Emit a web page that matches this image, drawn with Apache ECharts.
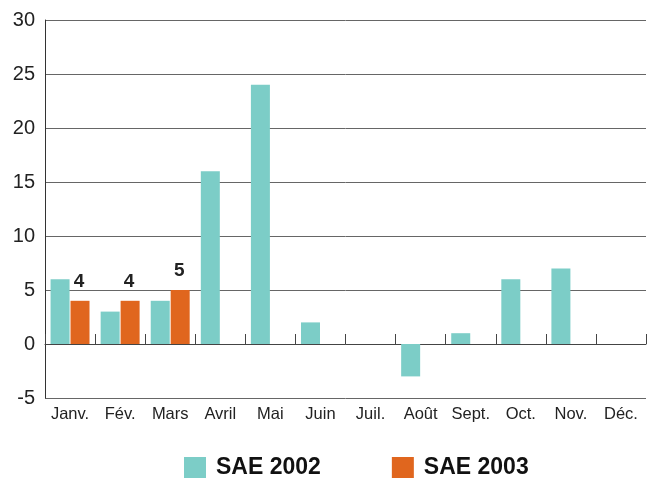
<!DOCTYPE html>
<html>
<head>
<meta charset="utf-8">
<script src="https://cdn.jsdelivr.net/npm/echarts@6/dist/echarts.min.js"></script>
<style>
html,body{margin:0;padding:0;background:#fff;}
#main{width:647px;height:478px;}
</style>
</head>
<body>
<div id="main"></div>
<script>
var months = ['Janv.', 'Fév.', 'Mars', 'Avril', 'Mai', 'Juin', 'Juil.', 'Août', 'Sept.', 'Oct.', 'Nov.', 'Déc.'];
var sae2002 = [6, 3, 4, 16, 24, 2, 0, -3, 1, 6, 7, 0];
var sae2003 = [4, 4, 5, null, null, null, null, null, null, null, null, null];

window.onload = function () {
    var myChart = echarts.init(document.getElementById('main'));
    var font = 'Liberation Sans, Arial, sans-serif';
    var option = {
        animation: false,
        textStyle: {fontFamily: font},
        grid: {left: 45, right: 1, top: 20, bottom: 80},
        legend: {
            left: 179,
            top: 451,
            icon: 'rect',
            itemWidth: 22,
            itemHeight: 21,
            itemGap: 71,
            textStyle: {fontSize: 23, fontWeight: 'bold', color: '#111', fontFamily: font, padding: [0, 0, 0, 5]},
            data: ['SAE 2002', 'SAE 2003']
        },
        xAxis: [
            {
                type: 'category',
                data: months,
                position: 'bottom',
                axisLine: {onZero: true, lineStyle: {color: '#444', width: 1}},
                axisTick: {show: true, inside: true, length: 10, lineStyle: {color: '#444'}},
                axisLabel: {show: false},
                splitLine: {show: false}
            },
            {
                type: 'category',
                data: months,
                position: 'bottom',
                axisLine: {show: false, onZero: false},
                axisTick: {show: false},
                axisLabel: {interval: 0, color: '#222', fontSize: 16.5, margin: 8, fontFamily: font},
                splitLine: {show: false}
            }
        ],
        yAxis: {
            type: 'value',
            min: -5,
            max: 30,
            interval: 5,
            axisLine: {show: true, lineStyle: {color: '#333'}},
            axisTick: {show: false},
            axisLabel: {color: '#222', fontSize: 20, margin: 10, fontFamily: font},
            splitLine: {lineStyle: {color: '#666', width: 1}}
        },
        series: [
            {
                name: 'SAE 2002',
                type: 'bar',
                data: sae2002,
                barWidth: 19,
                barGap: '5%',
                itemStyle: {color: '#7ccdc7'}
            },
            {
                name: 'SAE 2003',
                type: 'bar',
                data: sae2003,
                barWidth: 19,
                itemStyle: {color: '#e0661e'},
                label: {show: true, position: 'top', distance: 10, offset: [-1, 0], fontSize: 19, fontWeight: 'bold', color: '#222', fontFamily: font}
            }
        ]
    };
    myChart.setOption(option);
};
</script>
</body>
</html>
